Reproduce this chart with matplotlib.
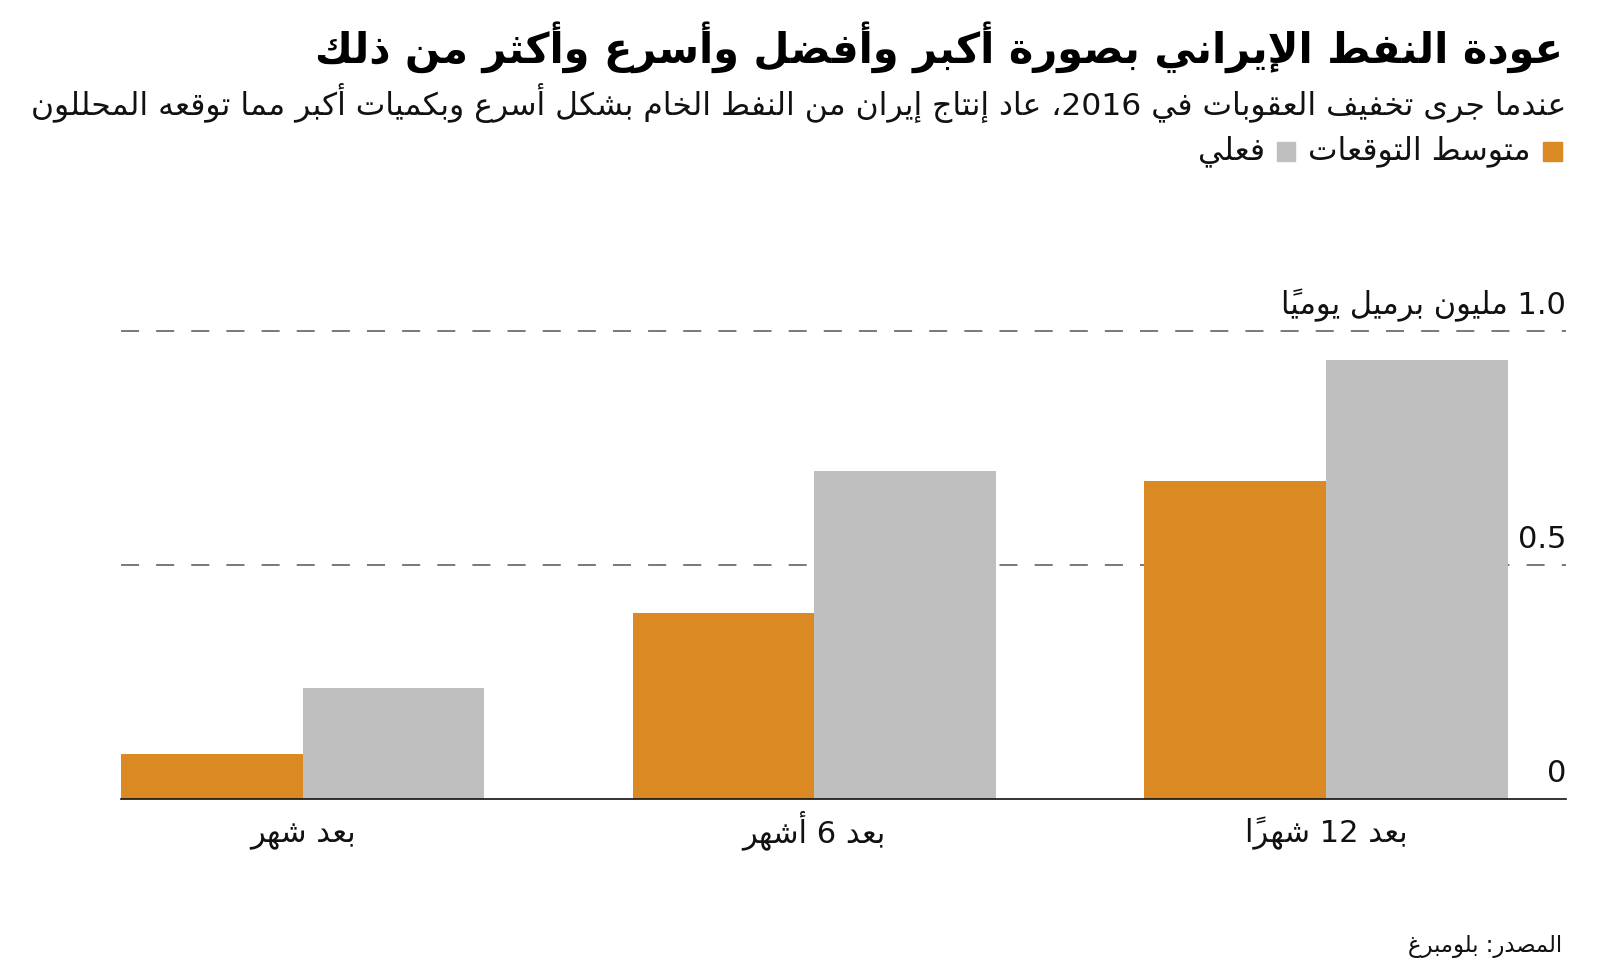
import matplotlib
matplotlib.use("Agg")
import matplotlib.pyplot as plt
from matplotlib.patches import Rectangle
import numpy as np

# ---- data
categories = ["بعد شهر", "بعد 6 أشهر", "بعد 12 شهراً"]
forecast = [0.096, 0.397, 0.68]
actual = [0.237, 0.70, 0.939]
yticks = [0, 0.5, 1.0]
ytick_labels = ["0", "0.5", "1.0 مليون برميل يومياً"]
series_names = ["متوسط التوقعات", "فعلي"]
series_colors = ["#DB8A23", "#BFBFBF"]
title = "عودة النفط الإيراني بصورة أكبر وأفضل وأسرع وأكثر من ذلك"
subtitle = "عندما جرى تخفيف العقوبات في 2016، عاد إنتاج إيران من النفط الخام بشكل أسرع وبكميات أكبر مما توقعه المحللون"
source = "المصدر: بلومبرغ"

# ---- minimal arabic shaping + rtl ordering (matplotlib does neither)
FORMS = {}
for ch, start, n in [("ء", 0xFE80, 1), ("آ", 0xFE81, 2), ("أ", 0xFE83, 2), ("ؤ", 0xFE85, 2),
                     ("إ", 0xFE87, 2), ("ئ", 0xFE89, 4), ("ا", 0xFE8D, 2), ("ب", 0xFE8F, 4),
                     ("ة", 0xFE93, 2), ("ت", 0xFE95, 4), ("ث", 0xFE99, 4), ("ج", 0xFE9D, 4),
                     ("ح", 0xFEA1, 4), ("خ", 0xFEA5, 4), ("د", 0xFEA9, 2), ("ذ", 0xFEAB, 2),
                     ("ر", 0xFEAD, 2), ("ز", 0xFEAF, 2), ("س", 0xFEB1, 4), ("ش", 0xFEB5, 4),
                     ("ص", 0xFEB9, 4), ("ض", 0xFEBD, 4), ("ط", 0xFEC1, 4), ("ظ", 0xFEC5, 4),
                     ("ع", 0xFEC9, 4), ("غ", 0xFECD, 4), ("ف", 0xFED1, 4), ("ق", 0xFED5, 4),
                     ("ك", 0xFED9, 4), ("ل", 0xFEDD, 4), ("م", 0xFEE1, 4), ("ن", 0xFEE5, 4),
                     ("ه", 0xFEE9, 4), ("و", 0xFEED, 2), ("ى", 0xFEEF, 2), ("ي", 0xFEF1, 4)]:
    FORMS[ch] = [chr(start + i) for i in range(n)]
LAM_ALEF = {"آ": 0xFEF5, "أ": 0xFEF7, "إ": 0xFEF9, "ا": 0xFEFB}


def is_mark(c):
    return 0x064B <= ord(c) <= 0x065F or c == "\u0670"


def shape(s):
    units = []  # [base, marks]
    for c in s:
        if is_mark(c) and units:
            units[-1][1] += c
        elif c in LAM_ALEF and units and units[-1][0] == "ل" and not units[-1][1]:
            units[-1][0] = "LA" + c
        else:
            units.append([c, ""])

    def nforms(u):
        if u[0].startswith("LA"):
            return 2
        return len(FORMS.get(u[0], []))

    glyphs = []
    for i, u in enumerate(units):
        n = nforms(u)
        jp = i > 0 and nforms(units[i - 1]) == 4 and n >= 2
        jn = n == 4 and i + 1 < len(units) and nforms(units[i + 1]) >= 1
        if u[0].startswith("LA"):
            g = chr(LAM_ALEF[u[0][2]] + (1 if jp else 0))
        elif n == 0:
            g = u[0]
        elif n == 1:
            g = FORMS[u[0]][0]
        elif n == 2:
            g = FORMS[u[0]][1 if jp else 0]
        else:
            g = FORMS[u[0]][{(0, 0): 0, (1, 0): 1, (0, 1): 2, (1, 1): 3}[(int(jp), int(jn))]]
        glyphs.append((g + u[1], u[0] in "0123456789."))

    # group numbers as ltr chunks, reverse the rest
    chunks = []
    for g, ltr in glyphs:
        if ltr and chunks and chunks[-1][1]:
            chunks[-1][0] += g
        else:
            chunks.append([g, ltr])
    return "".join(c[0] for c in reversed(chunks))


# ---- figure
W, H = 1600, 976
fig = plt.figure(figsize=(16, 9.76), dpi=100)
plt.rcParams['font.family'] = ['DejaVu Sans']
plt.rcParams['lines.scale_dashes'] = False


def fx(px):
    return px / W


def fy(py):
    return 1 - py / H


ax = fig.add_axes([fx(121), fy(799), fx(1566) - fx(121), (799 - 331) / H])
x = np.arange(len(categories))
width = 0.355
ax.bar(x - width / 2, forecast, width, color=series_colors[0], zorder=3)
ax.bar(x + width / 2, actual, width, color=series_colors[1], zorder=3)
ax.set_xlim(-width, 2.469)
ax.set_ylim(0, 1)
ax.set_axis_off()

for v in yticks[1:]:
    ax.axhline(v, color="#555555", lw=1.1, dashes=(13, 12.3), zorder=1, clip_on=False)
ax.axhline(0, color="#111111", lw=1.2, zorder=4, clip_on=False)

for v, lab in zip(yticks, ytick_labels):
    ax.annotate(shape(lab), xy=(1, v), xycoords=ax.get_yaxis_transform(),
                xytext=(0, 12), textcoords="offset points",
                ha="right", va="baseline", fontsize=22, color="#111111")

for xi, lab in zip(x, categories):
    ax.annotate(shape(lab), xy=(xi, 0), xycoords=ax.get_xaxis_transform(),
                xytext=(0, -31), textcoords="offset points",
                ha="center", va="baseline", fontsize=22, color="#111111")

# ---- header texts, fitted to reference widths
fig.canvas.draw()
renderer = fig.canvas.get_renderer()


def fitted_text(s, right, left, ymid, size, **kw):
    t = fig.text(fx(right), fy(ymid), shape(s), ha="right", va="center", fontsize=size, **kw)
    w = t.get_window_extent(renderer).width
    t.set_fontsize(size * (right - left) / w)
    return t


fitted_text(title, 1563, 316, 47, 30, fontweight="bold", color="black")
fitted_text(subtitle, 1566, 36, 103, 18, color="#111111")

# legend
fig.add_artist(Rectangle((fx(1543), fy(161)), fx(19), 19 / H, color=series_colors[0],
                         transform=fig.transFigure))
leg = fitted_text(series_names[0], 1531, 1309, 151, 17, color="#111111")
fig.add_artist(Rectangle((fx(1277), fy(161)), fx(18), 19 / H, color=series_colors[1],
                         transform=fig.transFigure))
fig.text(fx(1265), fy(151), shape(series_names[1]), ha="right", va="center",
         fontsize=leg.get_fontsize(), color="#111111")

fitted_text(source, 1562, 1407, 947, 15, color="#111111")

fig.savefig("out.png", dpi=100)
